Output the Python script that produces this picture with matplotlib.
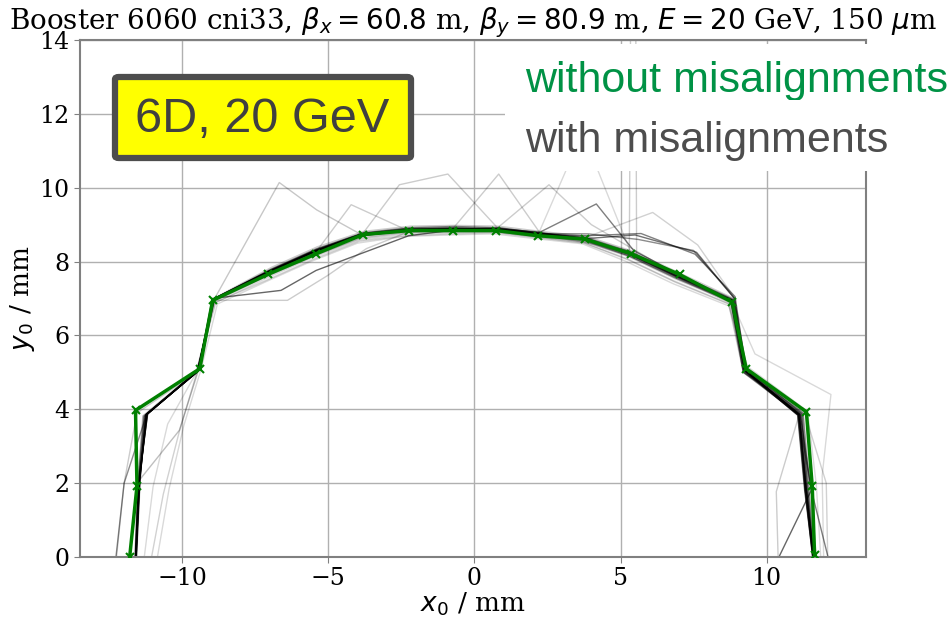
import matplotlib
matplotlib.use("Agg")
import matplotlib.pyplot as plt
from matplotlib.patches import Rectangle, FancyBboxPatch

plt.rcParams["font.family"] = "DejaVu Serif"

# reference run (no misalignments)
ideal_x = [-11.80, -11.55, -11.60, -9.40, -8.96, -7.08, -5.42, -3.82, -2.23, -0.74,
           0.74, 2.17, 3.77, 5.37, 7.02, 8.82, 9.30, 11.36, 11.56, 11.64]
ideal_y = [0.00, 1.92, 3.97, 5.10, 6.95, 7.65, 8.21, 8.73, 8.84, 8.84,
           8.84, 8.70, 8.61, 8.21, 7.65, 6.90, 5.10, 3.93, 1.92, 0.05]

# runs with misalignments, one list per seed
seeds_x = [
    [-11.59, -11.47, -11.19, -9.45, -8.95, -7.00, -5.45, -3.85, -2.25, -0.75, 0.75, 2.20, 3.80, 5.35, 6.95, 8.80, 9.25, 11.06, 11.30, 11.58],
    [-11.57, -11.45, -11.25, -9.50, -8.92, -7.05, -5.50, -3.90, -2.30, -0.78, 0.72, 2.15, 3.75, 5.30, 6.90, 8.78, 9.20, 11.10, 11.35, 11.60],
    [-11.60, -11.50, -11.30, -9.40, -8.90, -6.95, -5.40, -3.80, -2.20, -0.70, 0.78, 2.22, 3.82, 5.40, 7.00, 8.85, 9.30, 11.20, 11.40, 11.62],
    [-11.58, -11.48, -11.20, -9.45, -8.97, -6.62, -5.42, -3.60, -2.25, -0.75, 0.75, 2.20, 3.80, 5.35, 7.00, 8.80, 9.25, 11.10, 11.35, 11.60],
    [-11.59, -11.46, -11.22, -9.48, -8.94, -7.02, -5.47, -3.86, -2.27, -0.76, 0.74, 2.18, 3.78, 5.50, 7.60, 8.90, 9.28, 11.12, 11.32, 11.59],
    [-11.58, -11.47, -11.21, -9.46, -8.96, -7.03, -5.46, -3.84, -2.24, -0.74, 0.76, 2.25, 4.17, 5.45, 7.05, 8.85, 9.27, 11.08, 11.53, 12.10],
    [-11.60, -11.49, -11.18, -9.44, -8.93, -6.98, -5.43, -3.83, -2.24, -0.74, 0.76, 2.21, 3.81, 5.36, 6.96, 8.82, 9.26, 11.15, 11.53, 10.42],
    [-12.27, -11.99, -11.22, -9.43, -8.96, -7.01, -5.44, -3.86, -2.26, -0.76, 0.74, 2.19, 3.79, 5.34, 6.94, 8.79, 9.24, 11.08, 11.32, 11.57],
    [-11.59, -11.46, -11.23, -9.47, -8.94, -7.04, -5.48, -3.88, -2.28, -0.77, 0.73, 2.17, 3.85, 5.70, 7.55, 8.92, 9.29, 11.14, 11.36, 11.61],
    [-12.25, -11.99, -11.55, -9.50, -8.90, -7.10, -5.50, -3.90, -2.30, -0.80, 0.70, 2.15, 3.70, 5.30, 6.90, 8.75, 9.20, 11.13, 10.33, 10.39],
    [-11.05, -10.65, -10.10, -9.50, -8.85, -7.10, -5.55, -3.95, -2.35, -0.80, 0.70, 2.15, 3.75, 5.25, 6.85, 8.70, 9.20, 11.30, 12.04, 12.09],
    [-10.85, -10.45, -9.95, -9.35, -8.80, -7.15, -5.60, -4.00, -2.40, -0.85, 0.65, 2.10, 3.70, 5.20, 6.80, 8.70, 9.35, 11.40, 11.70, 11.85],
    [-11.62, -11.52, -11.35, -9.42, -8.92, -6.68, -5.40, -3.85, -2.22, -0.72, 0.76, 2.22, 3.82, 5.38, 6.98, 8.82, 9.28, 11.25, 11.45, 11.65],
    [-11.56, -11.44, -11.28, -9.52, -8.94, -7.08, -5.48, -4.22, -2.28, -0.76, 0.74, 2.18, 3.78, 5.33, 6.93, 8.79, 9.22, 11.18, 11.38, 11.57],
    [-11.61, -11.51, -11.32, -9.41, -8.91, -6.97, -5.41, -3.82, -2.57, -0.91, 0.77, 2.21, 3.81, 5.39, 6.99, 8.84, 9.29, 11.22, 11.42, 11.61],
    [-11.59, -11.48, -11.24, -9.47, -8.93, -7.01, -5.46, -3.87, -2.26, -0.74, 0.83, 2.23, 3.79, 5.34, 6.94, 8.81, 9.24, 11.09, 11.33, 11.59],
    [-11.57, -11.46, -11.26, -9.49, -8.95, -7.04, -5.49, -3.89, -2.29, -0.77, 0.74, 2.55, 4.00, 5.40, 6.97, 8.83, 9.26, 11.16, 11.37, 11.60],
    [-11.60, -11.49, -11.27, -9.44, -8.93, -7.00, -5.44, -3.84, -2.24, -0.75, 0.75, 2.20, 3.70, 5.36, 6.96, 8.81, 9.25, 11.11, 11.34, 11.60],
    [-11.58, -11.47, -11.23, -9.46, -8.94, -7.02, -5.46, -3.86, -2.26, -0.76, 0.74, 2.19, 5.30, 5.45, 5.55, 8.80, 9.26, 11.12, 11.34, 11.59],
    [-11.61, -11.50, -11.29, -9.43, -8.92, -6.99, -5.43, -3.83, -2.23, -0.73, 0.77, 2.23, 3.83, 6.10, 7.64, 8.90, 9.30, 11.19, 11.39, 11.61],
    [-11.57, -11.45, -11.24, -9.48, -8.90, -6.40, -5.03, -3.70, -2.28, -0.77, 0.73, 2.18, 3.78, 5.33, 6.93, 8.78, 9.23, 11.10, 11.33, 11.58],
    [-11.59, -11.50, -10.10, -9.45, -8.95, -7.02, -5.46, -3.86, -2.26, -0.75, 0.75, 2.20, 3.80, 5.35, 6.95, 8.80, 9.25, 11.08, 11.31, 11.58],
    [-11.58, -11.46, -11.21, -9.46, -8.96, -7.03, -5.47, -3.87, -2.27, -0.76, 0.74, 2.19, 3.79, 5.34, 6.94, 8.79, 9.60, 12.20, 11.90, 11.95],
    [-11.30, -11.00, -10.50, -9.55, -8.88, -7.12, -5.56, -3.96, -2.36, -0.82, 0.68, 2.12, 3.72, 5.22, 6.82, 8.72, 9.22, 11.25, 11.50, 11.70],
    [-11.62, -11.52, -11.33, -9.40, -8.88, -6.93, -5.38, -3.78, -2.18, -0.68, 0.80, 2.25, 3.85, 5.42, 7.05, 8.88, 9.32, 11.24, 11.44, 11.64],
    [-11.58, -11.47, -11.20, -9.47, -8.98, -7.06, -5.52, -3.92, -2.31, -0.79, 0.71, 2.16, 3.76, 5.31, 6.91, 8.77, 9.22, 11.07, 11.31, 11.59],
    [-11.59, -11.48, -11.23, -9.44, -8.94, -6.95, -5.40, -3.84, -2.25, -0.75, 0.75, 2.21, 3.90, 5.60, 7.50, 8.88, 9.27, 11.13, 11.36, 11.60],
]
seeds_y = [
    [0.00, 2.08, 3.88, 5.05, 6.98, 7.75, 8.30, 8.75, 8.88, 8.90, 8.88, 8.75, 8.62, 8.20, 7.60, 6.95, 5.05, 3.84, 1.81, 0.00],
    [0.00, 2.05, 3.85, 5.00, 6.95, 7.70, 8.25, 8.70, 8.82, 8.85, 8.86, 8.72, 8.58, 8.15, 7.55, 6.92, 5.00, 3.86, 1.85, 0.00],
    [0.00, 2.00, 3.80, 5.10, 7.00, 7.80, 8.35, 8.78, 8.92, 8.95, 8.92, 8.78, 8.65, 8.25, 7.65, 6.98, 5.10, 3.88, 1.88, 0.00],
    [0.00, 2.05, 3.86, 5.05, 7.00, 7.22, 7.76, 8.30, 8.70, 8.85, 8.85, 8.72, 8.60, 8.22, 7.65, 6.92, 5.05, 3.85, 1.85, 0.00],
    [0.00, 2.06, 3.87, 5.03, 6.96, 7.72, 8.28, 8.72, 8.86, 8.88, 8.90, 8.78, 8.62, 8.72, 8.25, 7.00, 5.06, 3.85, 1.83, 0.00],
    [0.00, 2.07, 3.87, 5.04, 6.97, 7.74, 8.29, 8.74, 8.87, 8.89, 8.89, 8.80, 9.56, 8.30, 7.62, 6.95, 5.05, 3.85, 1.81, 0.00],
    [0.00, 2.10, 3.89, 5.06, 6.99, 7.76, 8.31, 8.76, 8.89, 8.91, 8.89, 8.76, 8.63, 8.21, 7.61, 6.96, 5.06, 3.86, 1.81, 0.00],
    [0.00, 2.00, 3.86, 5.05, 6.97, 7.73, 8.27, 8.72, 8.85, 8.87, 8.87, 8.74, 8.60, 8.18, 7.58, 6.93, 5.03, 3.84, 1.83, 0.00],
    [0.00, 2.06, 3.86, 5.03, 6.96, 7.71, 8.26, 8.71, 8.84, 8.86, 8.87, 8.74, 8.70, 8.76, 8.20, 7.05, 5.08, 3.86, 1.84, 0.00],
    [0.00, 2.00, 3.90, 5.00, 6.92, 7.60, 8.15, 8.65, 8.80, 8.82, 8.82, 8.68, 8.55, 8.15, 7.58, 6.88, 5.02, 3.90, 1.77, 0.05],
    [0.00, 1.70, 3.40, 5.00, 6.90, 7.50, 8.05, 8.55, 8.70, 8.75, 8.78, 8.65, 8.50, 8.05, 7.45, 6.85, 5.00, 3.90, 2.00, 0.00],
    [0.00, 1.85, 3.55, 5.10, 6.85, 7.45, 8.00, 8.50, 8.68, 8.72, 8.75, 8.62, 8.48, 8.00, 7.40, 6.80, 5.15, 3.95, 1.95, 0.00],
    [0.00, 2.02, 3.82, 5.08, 6.96, 10.14, 9.40, 8.72, 8.86, 8.88, 8.86, 8.74, 8.62, 8.22, 7.62, 6.94, 5.08, 3.90, 1.90, 0.00],
    [0.00, 2.04, 3.84, 4.98, 6.94, 7.70, 8.20, 9.54, 8.84, 8.86, 8.86, 8.73, 8.59, 8.18, 7.58, 6.93, 5.02, 3.87, 1.86, 0.00],
    [0.00, 2.01, 3.81, 5.09, 6.99, 7.78, 8.33, 8.76, 10.08, 10.37, 8.93, 8.77, 8.64, 8.24, 7.64, 6.97, 5.09, 3.89, 1.89, 0.00],
    [0.00, 2.06, 3.86, 5.04, 6.97, 7.73, 8.28, 8.73, 8.86, 8.89, 10.37, 8.79, 8.61, 8.19, 7.59, 6.94, 5.04, 3.85, 1.84, 0.00],
    [0.00, 2.03, 3.83, 5.02, 6.95, 7.71, 8.26, 8.71, 8.84, 8.87, 8.88, 10.08, 9.00, 8.35, 7.63, 6.95, 5.05, 3.87, 1.86, 0.00],
    [0.00, 2.04, 3.83, 5.07, 6.98, 7.76, 8.31, 8.75, 8.88, 8.90, 8.89, 8.77, 11.50, 8.23, 7.62, 6.95, 5.06, 3.86, 1.84, 0.00],
    [0.00, 2.05, 3.85, 5.05, 6.97, 7.74, 8.29, 8.73, 8.86, 8.88, 8.88, 8.74, 8.30, 30.00, 8.10, 6.94, 5.05, 3.85, 1.83, 0.00],
    [0.00, 2.02, 3.82, 5.08, 6.99, 7.77, 8.32, 8.77, 8.90, 8.92, 8.91, 8.78, 8.66, 9.33, 8.45, 7.02, 5.10, 3.88, 1.87, 0.00],
    [0.00, 2.04, 3.85, 5.02, 6.95, 6.95, 7.62, 8.35, 8.80, 8.84, 8.85, 8.71, 8.57, 8.16, 7.57, 6.92, 5.03, 3.86, 1.85, 0.00],
    [0.00, 2.05, 3.43, 5.05, 6.97, 7.72, 8.27, 8.72, 8.85, 8.87, 8.87, 8.73, 8.60, 8.19, 7.59, 6.94, 5.04, 3.85, 1.84, 0.00],
    [0.00, 2.06, 3.87, 5.04, 6.96, 7.72, 8.27, 8.72, 8.85, 8.88, 8.88, 8.74, 8.60, 8.19, 7.59, 6.94, 5.50, 4.40, 2.20, 0.00],
    [0.00, 1.90, 3.60, 4.95, 6.88, 7.55, 8.10, 8.58, 8.74, 8.78, 8.80, 8.66, 8.52, 8.08, 7.48, 6.86, 5.00, 3.88, 1.92, 0.00],
    [0.00, 2.02, 3.82, 5.12, 7.02, 7.85, 8.40, 8.82, 8.96, 8.98, 8.96, 8.82, 8.68, 8.28, 7.68, 7.00, 5.12, 3.90, 1.90, 0.00],
    [0.00, 2.07, 3.88, 5.02, 6.93, 7.62, 8.15, 8.62, 8.78, 8.80, 8.81, 8.69, 8.55, 8.12, 7.52, 6.90, 5.02, 3.85, 1.84, 0.00],
    [0.00, 2.05, 3.86, 5.06, 6.97, 7.68, 8.26, 8.70, 8.85, 8.87, 8.88, 8.76, 8.75, 8.60, 8.30, 7.02, 5.06, 3.86, 1.85, 0.00],
]
seed_shade = [0.55, 0.5, 0.5, 0.6, 0.55, 0.5, 0.6, 0.45, 0.5,
              0.2, 0.18, 0.15, 0.22, 0.2, 0.2, 0.2, 0.2, 0.15, 0.2,
              0.18, 0.2, 0.25, 0.15, 0.15, 0.2, 0.2, 0.45]

fig = plt.figure(figsize=(9.49, 6.18), dpi=100)
ax = fig.add_axes([80 / 949, 1 - 557 / 618, 786 / 949, 517 / 618])

for sx, sy, a in zip(seeds_x, seeds_y, seed_shade):
    ax.plot(sx, sy, color="black", lw=1.0, alpha=a)

ax.plot(ideal_x, ideal_y, color="green", lw=2.5, marker="x", ms=6, mew=1.5, zorder=5)

ax.set_xlim(-13.5, 13.4)
ax.set_ylim(0, 14)
ax.set_xticks([-10, -5, 0, 5, 10])
ax.set_yticks(range(0, 15, 2))
ax.grid(True, color="#b0b0b0", lw=1.0)
ax.set_axisbelow(True)
for s in ax.spines.values():
    s.set_color("#808080")
    s.set_linewidth(1.5)
ax.tick_params(labelsize=17, colors="black", direction="out", length=4, color="#808080")
ax.set_xlabel("$x_0$ / mm", fontsize=19, labelpad=0)
ax.set_ylabel("$y_0$ / mm", fontsize=19, labelpad=2)
ax.set_title(r"Booster 6060 cni33, $\beta_x = 60.8$ m, $\beta_y = 80.9$ m, $E = 20$ GeV, 150 $\mu$m",
             fontsize=20, pad=6)

# slide overlays: label box and legend text
W, H = 949, 618
box = FancyBboxPatch((115 / W, 1 - 158 / H), 296 / W, 81 / H,
                     boxstyle="round,pad=0,rounding_size=0.004",
                     transform=fig.transFigure, facecolor="yellow",
                     edgecolor="#4d4d4d", lw=4.5, zorder=10)
fig.patches.append(box)
fig.text(262 / W, 1 - 119 / H, "6D, 20 GeV", family="Liberation Sans", fontsize=35,
         color="#404040", ha="center", va="center", zorder=11)

fig.patches.append(Rectangle((505 / W, 1 - 100 / H), 444 / W, 56 / H,
                             transform=fig.transFigure, facecolor="white",
                             edgecolor="none", zorder=10))
fig.text(525 / W, 1 - 92 / H, "without misalignments", family="Liberation Sans",
         fontsize=31, color="#009245", ha="left", va="baseline", zorder=11)
fig.patches.append(Rectangle((505 / W, 1 - 171 / H), 444 / W, 71 / H,
                             transform=fig.transFigure, facecolor="white",
                             edgecolor="none", zorder=12))
fig.text(525 / W, 1 - 152 / H, "with misalignments", family="Liberation Sans",
         fontsize=31, color="#4d4d4d", ha="left", va="baseline", zorder=13)

fig.savefig("out.png", dpi=100)
